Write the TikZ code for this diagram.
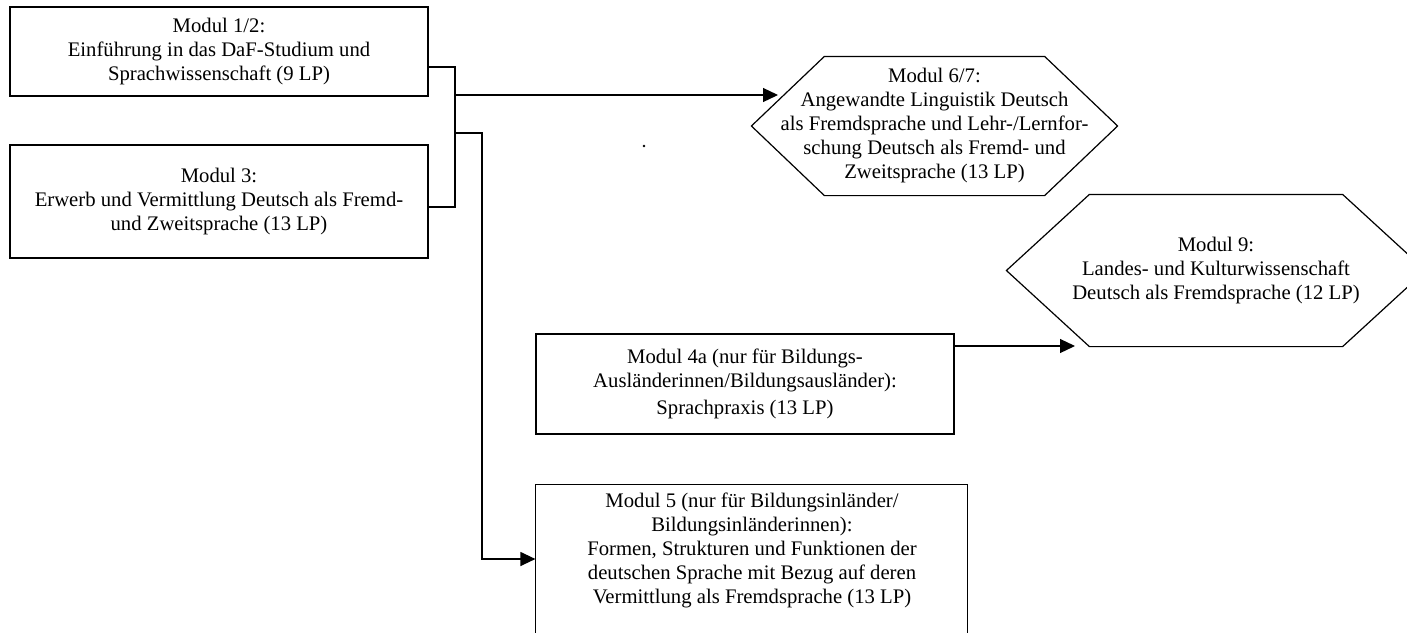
\documentclass[tikz,border=0pt]{standalone}
\usepackage{fontspec}
\setmainfont{Liberation Serif}
\usetikzlibrary{arrows.meta}
\tikzset{>={Triangle[length=15pt,width=14pt]}}

\begin{document}
\begin{tikzpicture}[x=1pt,y=-1pt,line width=1.2pt,
  every node/.style={font=\fontsize{20.7}{24}\selectfont,align=center,inner sep=0pt},
  modbox/.style={draw,minimum width=418pt}]
\useasboundingbox (0,0) rectangle (1407,632);

\node[modbox,minimum height=89pt] (m12) at (219,51.5) {Modul 1/2:\\Einführung in das DaF-Studium und\\Sprachwissenschaft (9 LP)};
\node[modbox,minimum height=113pt] (m3) at (219,201.5) {Modul 3:\\Erwerb und Vermittlung Deutsch als Fremd-\\und Zweitsprache (13 LP)};
\node[modbox,minimum height=100pt] (m4a) at (745,384) {Modul 4a (nur für Bildungs-\\Ausländerinnen/Bildungsausländer):\\[3pt]Sprachpraxis (13 LP)};
\node[minimum width=432pt,minimum height=130pt] (m5) at (752,550) {Modul 5 (nur für Bildungsinländer/\\Bildungsinländerinnen):\\Formen, Strukturen und Funktionen der\\deutschen Sprache mit Bezug auf deren\\Vermittlung als Fremdsprache (13 LP)};
\draw (m5.north west) rectangle ++(432,170);

\node[minimum width=365pt,minimum height=138pt] (m67) at (934.5,126) {Modul 6/7:\\Angewandte Linguistik Deutsch\\als Fremdsprache und Lehr-/Lernfor-\\schung Deutsch als Fremd- und\\Zweitsprache (13 LP)};
\draw (m67.west) -- ([xshift=73pt]m67.north west) -- ([xshift=-73pt]m67.north east) -- (m67.east) -- ([xshift=-73pt]m67.south east) -- ([xshift=73pt]m67.south west) -- cycle;
\node[minimum width=418pt,minimum height=151pt] (m9) at (1216,270.5) {Modul 9:\\Landes- und Kulturwissenschaft\\Deutsch als Fremdsprache (12 LP)};
\draw (m9.west) -- ([xshift=83pt]m9.north west) -- ([xshift=-83pt]m9.north east) -- (m9.east) -- ([xshift=-83pt]m9.south east) -- ([xshift=83pt]m9.south west) -- cycle;

\node[fill,circle,inner sep=1pt] (dot) at (644,146) {};

\coordinate (j1) at (455,67);
\coordinate (j3) at (455,207);
\coordinate (ja) at (455,95);
\coordinate (jb) at (455,133);
\coordinate (jc) at (482,133);
\coordinate (jd) at (482,559);
\coordinate (in67) at (778,95);
\coordinate (in9) at (1075,346);
\draw (m12.east |- j1) -- (j1) -- (j3) -- (m3.east |- j3);
\draw[->] (ja) -- (in67);
\draw[->] (jb) -- (jc) -- (jd) -- (m5.west |- jd);
\draw[->] (m4a.east |- in9) -- (in9);
\end{tikzpicture}
\end{document}
